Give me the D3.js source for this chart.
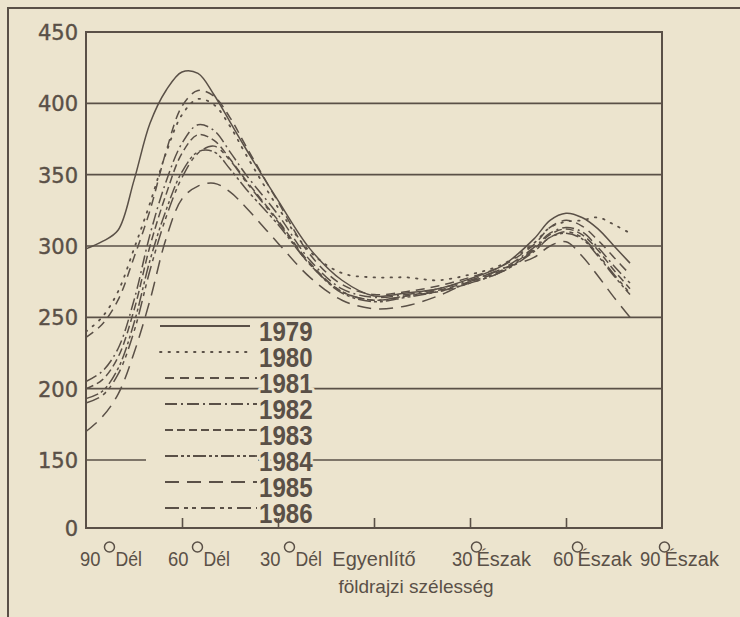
<!DOCTYPE html>
<html>
<head>
<meta charset="utf-8">
<script src="https://cdn.jsdelivr.net/npm/d3@7"></script>
<style>
  body { margin: 0; background: #ece4ce; }
  svg { display: block; }
</style>
</head>
<body>
<div id="chart"></div>
<script>
// latitudes (negative = Dél, positive = Észak)
var lats = [-90,-85,-80,-75,-70,-65,-60,-55,-50,-45,-40,-30,-20,-10,0,10,20,30,40,50,55,60,65,70,75,80];

var o3_1979 = [298,303,311,346,386,409,422,421,406,387,368,332,298,276,265,267,270,277,286,305,318,323,320,312,300,288];
var o3_1980 = [240,250,268,298,330,365,392,403,399,384,364,327,296,281,278,278,276,280,287,302,313,317,318,320,315,309];
var o3_1981 = [236,245,262,292,325,366,398,409,405,390,370,331,294,273,266,268,272,278,286,301,313,318,314,304,292,280];
var o3_1982 = [205,212,228,262,308,345,372,385,381,366,350,322,290,270,264,266,270,276,284,299,309,313,310,299,286,274];
var o3_1983 = [200,206,222,255,300,336,365,378,374,361,346,318,288,268,262,265,269,275,283,298,308,312,308,297,283,270];
var o3_1984 = [193,198,214,246,290,325,352,366,366,354,340,315,287,267,261,264,268,274,282,296,306,309,305,293,279,266];
var o3_1985 = [170,180,196,225,262,305,333,342,344,338,327,302,278,262,256,258,265,275,284,292,300,303,293,279,264,250];
var o3_1986 = [190,195,210,240,283,320,348,365,370,360,345,317,287,268,262,265,268,274,282,297,306,310,306,294,280,267];

var years = ["1979","1980","1981","1982","1983","1984","1985","1986"];
var dashes = ["none","1.5,7","9,6","12,4,2,4","8,4","13,3,3,3,3,3","14,8","14,5,4,4,4,5"];

var yTicks = [0,150,200,250,300,350,400,450];
var gridVals = [150,200,250,300,350,400];
var xTicks = [-60,-30,0,30,60];
var xLabels = [
  {lat: -90, num: "90", word: "Dél"},
  {lat: -60, num: "60", word: "Dél"},
  {lat: -30, num: "30", word: "Dél"},
  {lat: 0, num: "", word: "Egyenlítő"},
  {lat: 30, num: "30", word: "Észak"},
  {lat: 60, num: "60", word: "Észak"},
  {lat: 90, num: "90", word: "Észak"}
];
var xTitle = "földrajzi szélesség";

var series = [o3_1979,o3_1980,o3_1981,o3_1982,o3_1983,o3_1984,o3_1985,o3_1986].map(function(vals, i) {
  return {year: years[i], dash: dashes[i], values: vals.map(function(v, j) { return {lat: lats[j], v: v}; })};
});

var W = 740, H = 617;
var ink = "#5a5047", paper = "#ece4ce";
var sans = "'Liberation Sans',Arial,sans-serif";

var svg = d3.select("#chart").append("svg").attr("width", W).attr("height", H);

svg.append("rect").attr("width", W).attr("height", H).attr("fill", paper);

// outer frame of the newspaper box
svg.append("path").attr("d", "M8,617V8H740").attr("fill", "none").attr("stroke", ink).attr("stroke-width", 2);

var x = d3.scaleLinear().domain([-90, 90]).range([86, 662]);
// broken axis: 0..150 squeezed
var y = d3.scaleLinear().domain([0, 150, 450]).range([528, 460, 32]);

// gridlines
svg.append("g").selectAll("line").data(gridVals).enter().append("line")
  .attr("x1", x(-90)).attr("x2", x(90))
  .attr("y1", function(d) { return y(d); }).attr("y2", function(d) { return y(d); })
  .attr("stroke", ink).attr("stroke-width", 1.6);

// curves
var line = d3.line()
  .x(function(d) { return x(d.lat); })
  .y(function(d) { return y(d.v); })
  .curve(d3.curveCatmullRom.alpha(0.5));

svg.append("g").selectAll("path").data(series).enter().append("path")
  .attr("d", function(d) { return line(d.values); })
  .attr("fill", "none")
  .attr("stroke", ink)
  .attr("stroke-width", function(d, i) { return i == 1 ? 1.8 : 1.5; })
  .attr("stroke-linecap", function(d, i) { return i == 1 ? "round" : "butt"; })
  .attr("stroke-dasharray", function(d) { return d.dash; });

// legend (knocks out the gridlines behind it)
var leg = svg.append("g");
series.forEach(function(s, i) {
  var base = 341 + i * 26;
  var ly = base - 15;
  var x0 = i < 2 ? 160 : 165, x1 = i < 2 ? 250 : 257;
  leg.append("line").attr("x1", 146).attr("x2", 258).attr("y1", ly).attr("y2", ly)
    .attr("stroke", paper).attr("stroke-width", 11);
  leg.append("line").attr("x1", x0).attr("x2", x1).attr("y1", ly).attr("y2", ly)
    .attr("stroke", ink).attr("stroke-width", i == 0 ? 2 : 1.8)
    .attr("stroke-linecap", i == 1 ? "round" : "butt")
    .attr("stroke-dasharray", s.dash);
  var t = leg.append("text").attr("x", 259).attr("y", base).text(s.year)
    .attr("font-family", sans).attr("font-weight", "bold").attr("font-size", 28)
    .attr("fill", ink).attr("stroke", paper).attr("stroke-width", 6)
    .attr("paint-order", "stroke").attr("stroke-linejoin", "round");
  var w = t.node().getComputedTextLength();
  t.attr("textLength", w * 0.86).attr("lengthAdjust", "spacingAndGlyphs");
});

// plot box
svg.append("rect").attr("x", x(-90)).attr("y", y(450))
  .attr("width", x(90) - x(-90)).attr("height", y(0) - y(450))
  .attr("fill", "none").attr("stroke", ink).attr("stroke-width", 2);

// x ticks pointing up
var xAxis = svg.append("g").attr("transform", "translate(0," + y(0) + ")")
  .call(d3.axisBottom(x).tickValues(xTicks).tickSize(-10).tickFormat(""));
xAxis.select(".domain").remove();
xAxis.selectAll("line").attr("stroke", ink).attr("stroke-width", 1.6);

// y labels
var yAxis = svg.append("g").attr("transform", "translate(" + x(-90) + ",0)")
  .call(d3.axisLeft(y).tickValues(yTicks).tickSize(0).tickPadding(8));
yAxis.select(".domain").remove();
yAxis.selectAll("text").attr("font-family", "'DejaVu Sans',sans-serif")
  .attr("font-size", 21).attr("fill", ink).attr("dy", "0.36em")
  .attr("stroke", ink).attr("stroke-width", 0.4);

// x labels with degree circles
var shift = function(lat) { return lat == -90 ? -6 : lat == -60 ? -14 : lat == 90 ? -22 : lat == 60 ? -13 : -18; };
var xl = svg.append("g").attr("font-family", sans).attr("font-size", 20).attr("fill", ink);
xLabels.forEach(function(d) {
  var by = 566;
  if (d.num === "") {
    xl.append("text").attr("x", x(d.lat)).attr("y", by).attr("text-anchor", "middle").text(d.word);
    return;
  }
  var x0 = x(d.lat) + shift(d.lat);
  var n = xl.append("text").attr("x", x0).attr("y", by).text(d.num);
  var nw = n.node().getComputedTextLength() * 0.92;
  n.attr("textLength", nw).attr("lengthAdjust", "spacingAndGlyphs");
  var south = d.lat < 0;
  xl.append("circle").attr("cx", x0 + nw + (south ? 9 : 4)).attr("cy", by - 19).attr("r", 5)
    .attr("fill", "none").attr("stroke", ink).attr("stroke-width", 1.5);
  var wd = xl.append("text").attr("x", x0 + nw + (south ? 15 : 4)).attr("y", by).text(d.word);
  if (south) {
    wd.attr("textLength", wd.node().getComputedTextLength() * 0.88).attr("lengthAdjust", "spacingAndGlyphs");
  }
});

svg.append("text").attr("x", 416).attr("y", 593).attr("text-anchor", "middle")
  .attr("font-family", sans).attr("font-size", 19).attr("fill", ink).text(xTitle);
</script>
</body>
</html>
